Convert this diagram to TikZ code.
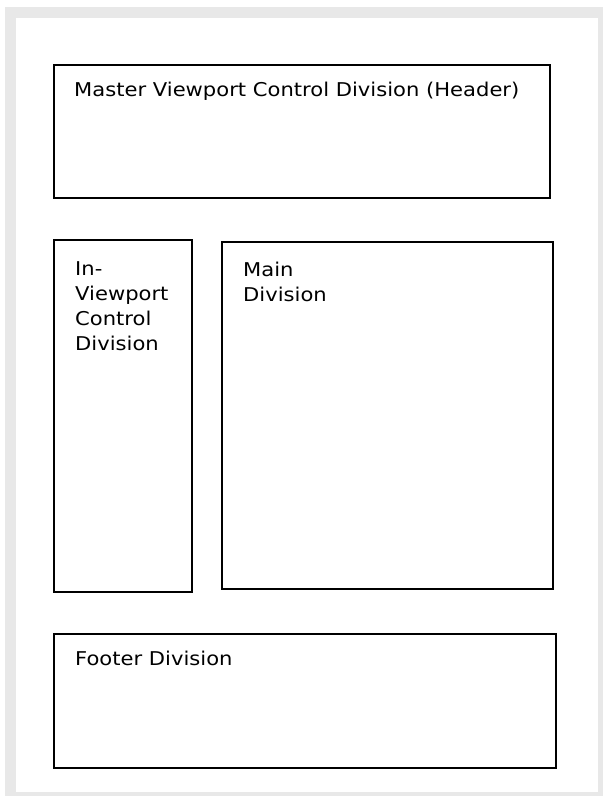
\documentclass[tikz,border=0pt]{standalone}
\usepackage{fontspec}
\setmainfont{DejaVu Sans}
\newfontfamily\vfont[FakeStretch=1.11]{DejaVu Sans}
\begin{document}
\begin{tikzpicture}[x=1pt,y=-1pt,
  box/.style={draw=black,line width=2pt,fill=white},
  lbl/.style={anchor=base west,inner sep=0pt,font=\vfont\fontsize{19}{24.7}\selectfont,align=left}]
\useasboundingbox (0,0) rectangle (603,796);
\fill[white] (0,0) rectangle (603,796);
\fill[black!9] (5,7) rectangle (603,796);
\fill[white] (16,18) rectangle (598,792);
\draw[box] (54,65) rectangle (550,198);
\draw[box] (54,240) rectangle (192,592);
\draw[box] (222,242) rectangle (553,589);
\draw[box] (54,634) rectangle (556,768);
\node[lbl] (t1) at (74,96) {Master Viewport Control Division (Header)};
\node[lbl] (t2) at (75,350) {In-\\Viewport\\Control\\Division};
\node[lbl] (t3) at (243,301.5) {Main\\Division};
\node[lbl] (t4) at (75,665) {Footer Division};
\end{tikzpicture}
\end{document}
